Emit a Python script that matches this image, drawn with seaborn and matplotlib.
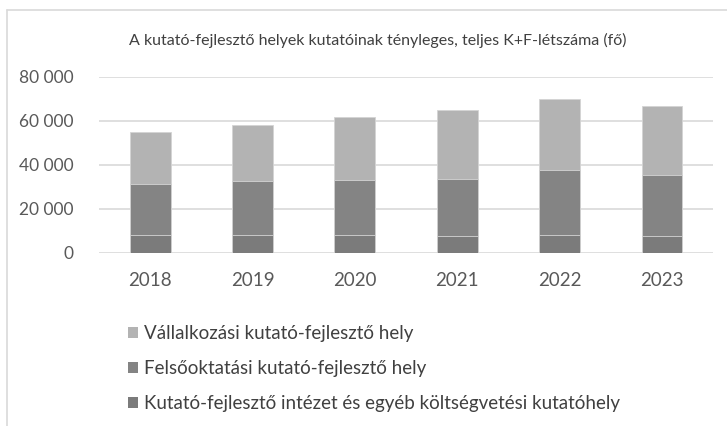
import matplotlib
matplotlib.use("Agg")
import matplotlib.pyplot as plt
from matplotlib.patches import Patch
from matplotlib.lines import Line2D
import seaborn as sns
import numpy as np
import pandas as pd

sns.set_style("white")
plt.rcParams['font.family'] = ['Lato', 'DejaVu Sans']

years = ["2018", "2019", "2020", "2021", "2022", "2023"]
intezet = [8000, 7900, 8100, 7700, 7900, 7700]
felsooktatas = [23200, 24550, 24800, 25800, 29550, 27600]
vallalkozas = [23500, 25450, 28900, 31360, 32400, 31400]

series_names = ["Vállalkozási kutató-fejlesztő hely",
                "Felsőoktatási kutató-fejlesztő hely",
                "Kutató-fejlesztő intézet és egyéb költségvetési kutatóhely"]
colors = ["#b3b3b3", "#848484", "#7b7b7b"]
title = "A kutató-fejlesztő helyek kutatóinak tényleges, teljes K+F-létszáma (fő)"

da = pd.DataFrame({"year": years, "intezet": intezet,
                   "felso": felsooktatas, "vall": vallalkozas})
da["lvl1"] = da["intezet"]
da["lvl2"] = da["lvl1"] + da["felso"]
da["lvl3"] = da["lvl2"] + da["vall"]

fig = plt.figure(figsize=(7.27, 4.26), dpi=100)
ax = fig.add_axes([0.136, 0.4068, 0.845, 0.4132])

# stacked: draw the totals first, then overlay lower levels
for col, c in zip(["lvl3", "lvl2", "lvl1"], colors):
    sns.barplot(data=da, x="year", y=col, color=c, width=0.4, ax=ax,
                edgecolor="#d4d4d4", linewidth=0.6, saturation=1)

ax.set_ylim(0, 80000)
ax.set_xlim(-0.5, 5.5)
ax.set_yticks(np.arange(0, 80001, 20000))
ax.set_yticklabels([f"{v:,}".replace(",", " ") for v in range(0, 80001, 20000)])
ax.yaxis.grid(True, color="#d9d9d9", linewidth=1.2)
ax.set_axisbelow(True)
for s in ax.spines.values():
    s.set_visible(False)
ax.tick_params(axis="both", length=0, colors="#595959")
ax.tick_params(axis="y", pad=18, labelsize=12.5)
ax.tick_params(axis="x", pad=14, labelsize=13.5)
ax.set_xlabel("")
ax.set_ylabel("")

fig.text(0.52, 0.905, title, ha="center", va="center", fontsize=11.5, color="#404040")

handles = [Patch(facecolor=c, edgecolor="none") for c in colors]
fig.legend(handles, series_names, loc="upper left", bbox_to_anchor=(0.176, 0.236),
           frameon=False, fontsize=13.5, labelcolor="#404040",
           handlelength=0.55, handleheight=0.55, handletextpad=0.3,
           labelspacing=0.95, borderaxespad=0, borderpad=0)

# chart-area border (left and top edges visible)
fig.add_artist(Line2D([0.0096, 0.0096], [0, 0.977], color="#d9d9d9", linewidth=1.2))
fig.add_artist(Line2D([0.0096, 1.0], [0.977, 0.977], color="#d9d9d9", linewidth=1.2))

fig.savefig("out.png", dpi=100)
